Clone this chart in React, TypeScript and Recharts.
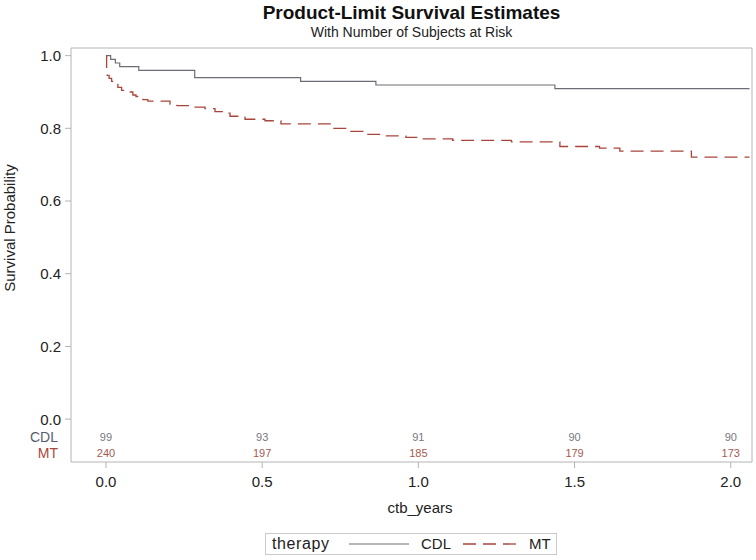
import React from 'react';
import { ComposedChart, Line, XAxis, YAxis, ReferenceArea } from 'recharts';

const FONT = '"Liberation Sans", Arial, Helvetica, sans-serif';
const FRAME = '#b4b4b4';
const CDL_COLOR = '#6c6c76';
const MT_COLOR = '#a8463c';

// Product-limit steps (years, survival probability)
const cdlTimes = [0, 0.015, 0.03, 0.044, 0.105, 0.284, 0.623, 0.864, 1.437, 2.06];
const cdlSurv = [1.0, 0.9899, 0.9798, 0.9697, 0.9596, 0.9394, 0.9293, 0.9192, 0.9091, 0.9091];

const mtTimes = [
    0, 0.002, 0.004, 0.01, 0.018, 0.025, 0.038, 0.05, 0.074, 0.086, 0.096, 0.102, 0.118, 0.134,
    0.205, 0.227, 0.266, 0.317, 0.349, 0.381, 0.397, 0.445, 0.509, 0.56, 0.72, 0.77, 0.823,
    0.893, 0.96, 0.995, 1.11, 1.298, 1.453, 1.58, 1.645, 1.874, 2.06,
];
const mtSurv = [
    1.0, 0.9583, 0.9458, 0.9375, 0.9292, 0.9208, 0.9125, 0.9042, 0.9, 0.8917, 0.8875, 0.8833, 0.8792, 0.875,
    0.8667, 0.8625, 0.8583, 0.8542, 0.8458, 0.8417, 0.8333, 0.825, 0.8208, 0.8125, 0.8, 0.7917, 0.7833,
    0.7792, 0.775, 0.7708, 0.7667, 0.7625, 0.75, 0.7458, 0.7375, 0.7208, 0.7208,
];

// number of subjects at risk
const riskTimes = [0, 0.5, 1, 1.5, 2];
const cdlAtRisk = [99, 93, 91, 90, 90];
const mtAtRisk = [240, 197, 185, 179, 173];

const xTicks = [0, 0.5, 1, 1.5, 2];
const yTicks = [0, 0.2, 0.4, 0.6, 0.8, 1];

const X_DOMAIN: [number, number] = [-0.112, 2.068];
const Y_DOMAIN: [number, number] = [-0.118, 1.021];
const CDL_ROW = -0.0487;
const MT_ROW = -0.0936;

const cdlData = cdlTimes.map((t, i) => ({ t, s: cdlSurv[i] }));
const mtData = mtTimes.map((t, i) => ({ t, s: mtSurv[i] }));
const cdlRisk = riskTimes.map((t, i) => ({ t, s: CDL_ROW, n: cdlAtRisk[i] }));
const mtRisk = riskTimes.map((t, i) => ({ t, s: MT_ROW, n: mtAtRisk[i] }));

const YTick = (props: any) => {
    const { x, y, payload } = props;
    const v = payload.value;
    if (v === CDL_ROW || v === MT_ROW) {
        const isCdl = v === CDL_ROW;
        return (
            <text x={x - 3} y={y} dy="0.36em" textAnchor="end" fontFamily={FONT} fontSize={14}
                fill={isCdl ? '#585d6e' : MT_COLOR}>
                {isCdl ? 'CDL' : 'MT'}
            </text>
        );
    }
    return (
        <g>
            <line x1={x + 4} x2={x + 10} y1={y} y2={y} stroke={FRAME} />
            <text x={x} y={y} dy="0.36em" textAnchor="end" fontFamily={FONT} fontSize={15} fill="#222">
                {Number(v).toFixed(1)}
            </text>
        </g>
    );
};

const riskDot = (color: string) => (props: any) => (
    <text key={`r-${props.index}`} x={props.cx} y={props.cy} dy="0.36em" textAnchor="middle"
        fontFamily={FONT} fontSize={11} fill={color}>
        {props.payload.n}
    </text>
);

const App: React.FC = () => {
    return (
        <div style={{ position: 'absolute', left: 0, top: 0, width: 756, height: 560, background: '#fff', fontFamily: FONT }}>
            <div style={{ position: 'absolute', left: 71, width: 681, top: 2, textAlign: 'center', fontSize: 19, fontWeight: 'bold', lineHeight: '21px', color: '#111' }}>
                Product-Limit Survival Estimates
            </div>
            <div style={{ position: 'absolute', left: 71, width: 681, top: 24, textAlign: 'center', fontSize: 14, lineHeight: '16px', color: '#222' }}>
                With Number of Subjects at Risk
            </div>

            <ComposedChart width={756} height={560} margin={{ top: 48, right: 4, bottom: 0, left: 0 }}>
                <XAxis type="number" dataKey="t" domain={X_DOMAIN} allowDataOverflow ticks={xTicks} interval={0}
                    tickFormatter={(v: number) => v.toFixed(1)} height={98} axisLine={false}
                    tickLine={{ stroke: FRAME }} tickSize={6} tickMargin={8}
                    tick={{ fill: '#222', fontSize: 15, fontFamily: FONT }} />
                <YAxis type="number" domain={Y_DOMAIN} allowDataOverflow ticks={[MT_ROW, CDL_ROW, ...yTicks]}
                    interval={0} width={71} axisLine={false} tickLine={false} tickSize={6} tickMargin={4}
                    tick={<YTick />} />
                <ReferenceArea x1={X_DOMAIN[0]} x2={X_DOMAIN[1]} y1={Y_DOMAIN[0]} y2={Y_DOMAIN[1]}
                    fill="none" stroke={FRAME} strokeWidth={1} fillOpacity={0} ifOverflow="visible" />
                <Line data={cdlData} dataKey="s" type="stepAfter" stroke={CDL_COLOR} strokeWidth={1.2}
                    dot={false} activeDot={false} isAnimationActive={false} name="CDL" />
                <Line data={mtData} dataKey="s" type="stepAfter" stroke={MT_COLOR} strokeWidth={1.3}
                    strokeDasharray="13 7" dot={false} activeDot={false} isAnimationActive={false} name="MT" />
                <Line data={cdlRisk} dataKey="s" stroke="none" dot={riskDot('#77777f')} activeDot={false}
                    isAnimationActive={false} legendType="none" />
                <Line data={mtRisk} dataKey="s" stroke="none" dot={riskDot('#a45a50')} activeDot={false}
                    isAnimationActive={false} legendType="none" />
            </ComposedChart>

            <div style={{ position: 'absolute', left: 320, width: 200, top: 500, textAlign: 'center', fontSize: 15, lineHeight: '16px', color: '#222' }}>
                ctb_years
            </div>
            <div style={{ position: 'absolute', left: -90, width: 200, top: 220, textAlign: 'center', fontSize: 15, lineHeight: '16px', color: '#222', transform: 'rotate(-90deg)' }}>
                Survival Probability
            </div>

            <div style={{ position: 'absolute', left: 265, top: 533, width: 292, height: 22, border: '1px solid #cacaca', boxSizing: 'border-box', fontSize: 15, color: '#222' }}>
                <span style={{ position: 'absolute', left: 6, top: 1, lineHeight: '18px', fontSize: 16, letterSpacing: 0.6 }}>therapy</span>
                <svg style={{ position: 'absolute', left: 83, top: 0 }} width={62} height={20}>
                    <line x1={0} x2={60} y1={10} y2={10} stroke={CDL_COLOR} strokeWidth={1.2} />
                </svg>
                <span style={{ position: 'absolute', left: 155, top: 1, lineHeight: '18px' }}>CDL</span>
                <svg style={{ position: 'absolute', left: 197, top: 0 }} width={57} height={20}>
                    <line x1={0} x2={55} y1={10} y2={10} stroke={MT_COLOR} strokeWidth={1.3} strokeDasharray="13 7" />
                </svg>
                <span style={{ position: 'absolute', left: 263, top: 1, lineHeight: '18px' }}>MT</span>
            </div>
        </div>
    );
};

export default App;
